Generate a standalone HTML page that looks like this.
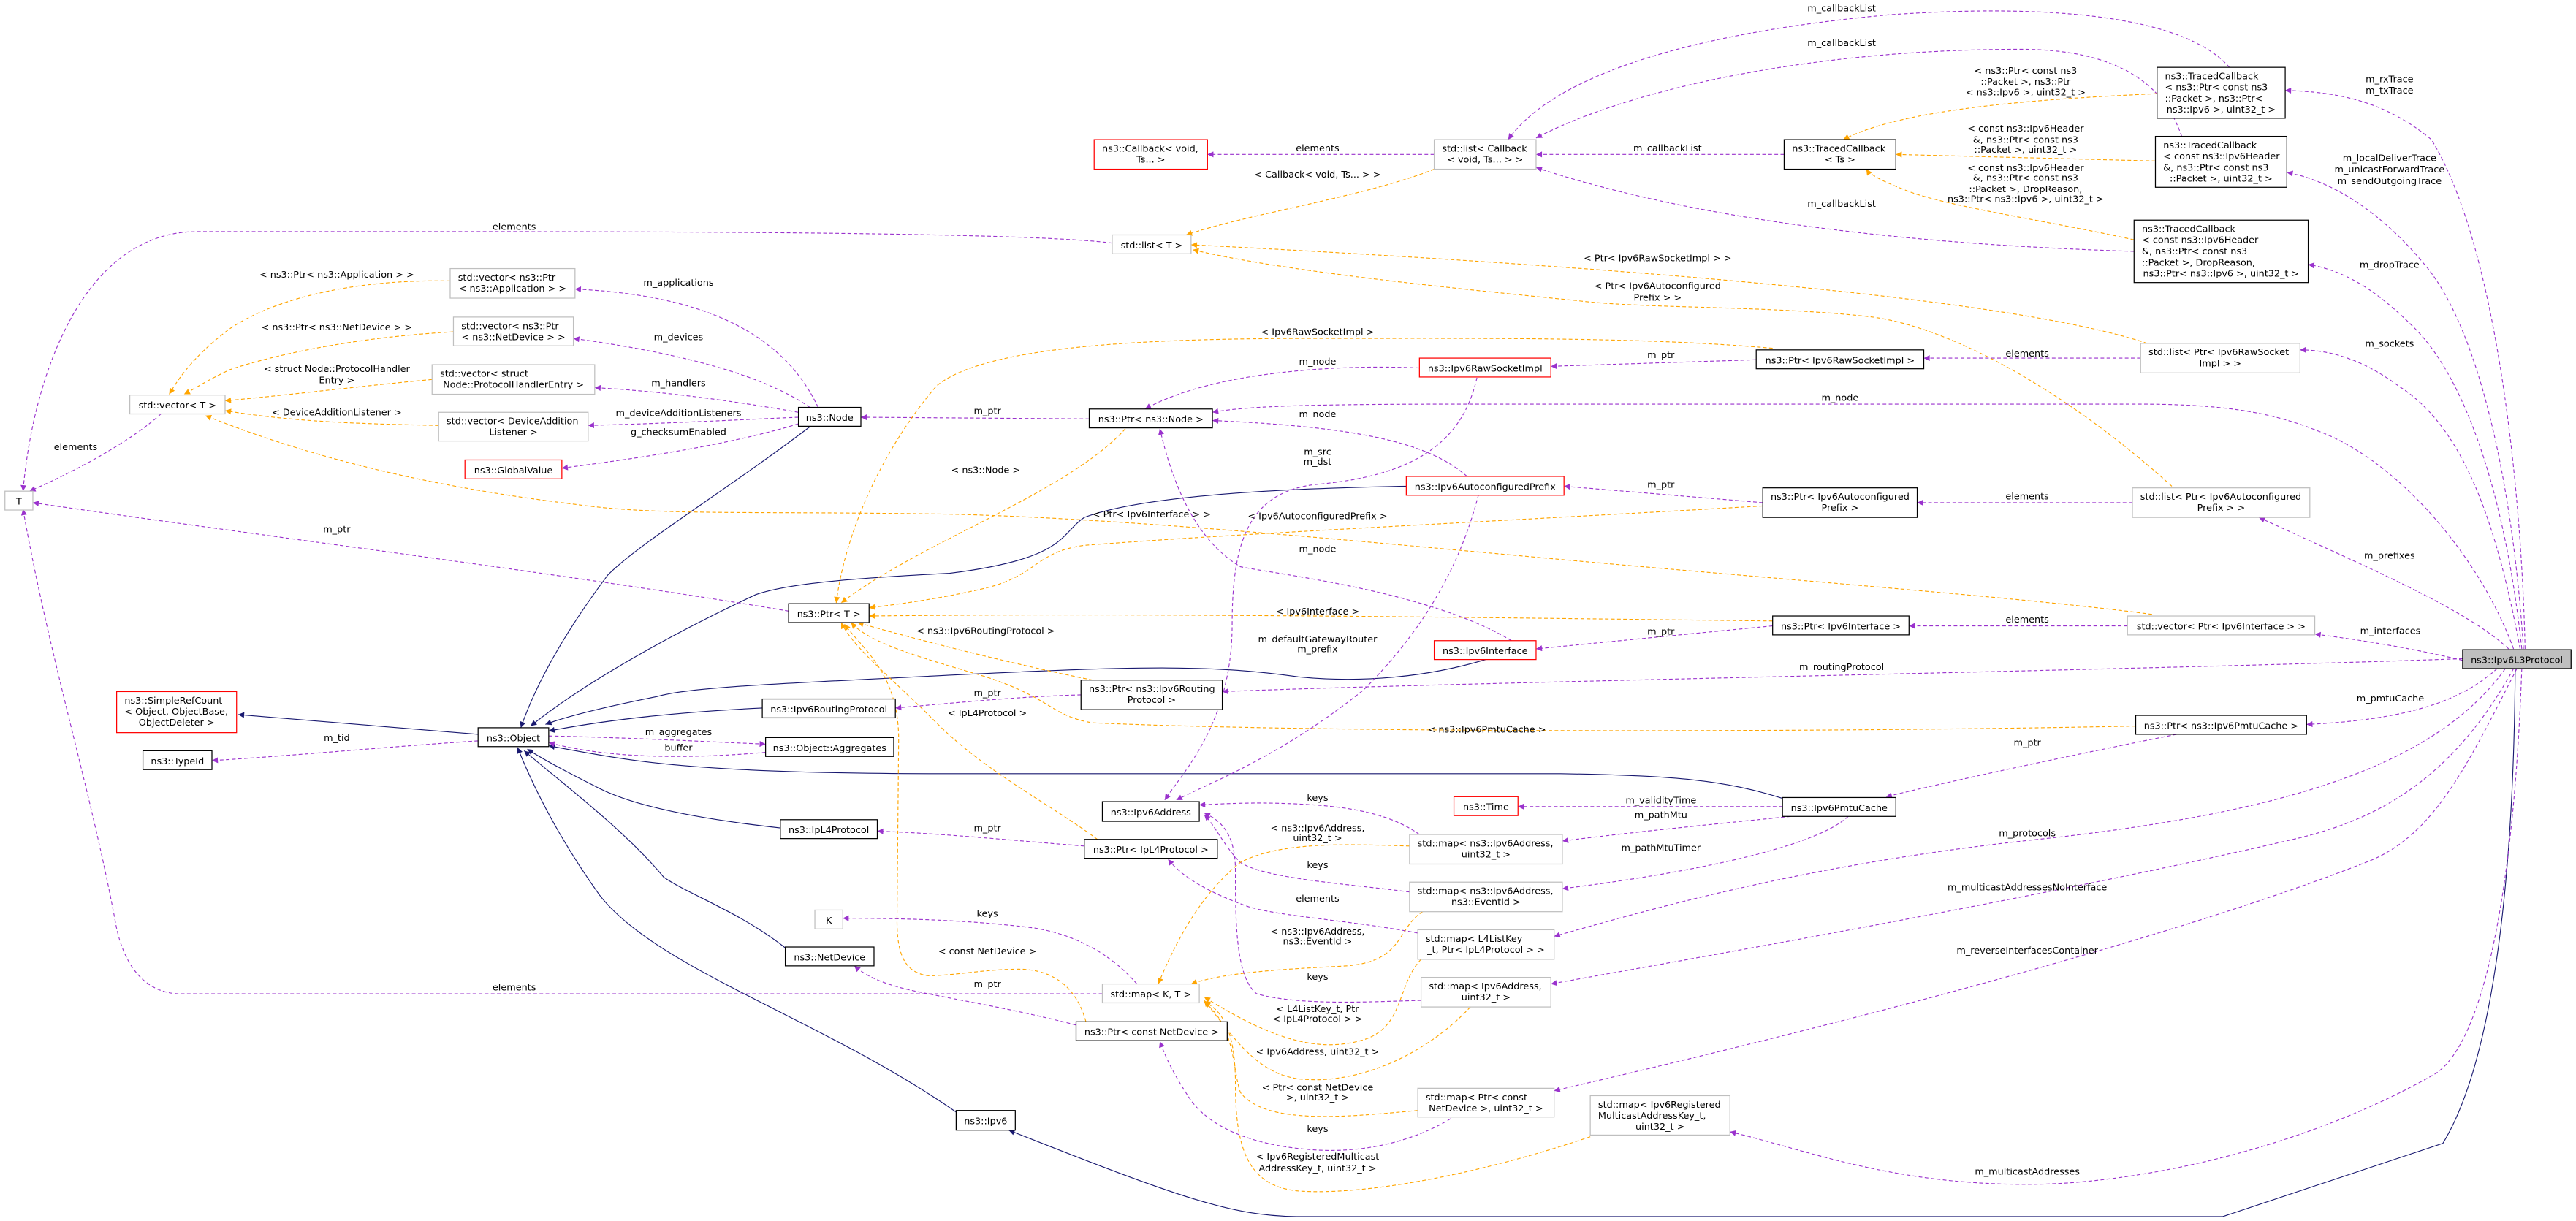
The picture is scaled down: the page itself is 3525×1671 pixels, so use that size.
<!DOCTYPE html>
<html><head><meta charset="utf-8"><style>
html,body{margin:0;padding:0;background:#fff;}
svg{display:block;}
text{font-family:"DejaVu Sans","Liberation Sans",sans-serif;font-size:5.7px;fill:#000;}
.l{text-anchor:middle;}
.p{fill:none;stroke:#9a32cd;stroke-width:0.5;stroke-dasharray:2.2,1.5;}
.o{fill:none;stroke:#ffa500;stroke-width:0.5;stroke-dasharray:2.2,1.5;}
.b{fill:none;stroke:#191970;stroke-width:0.5;}
.nb{fill:#fff;stroke:#000;stroke-width:0.55;}
.ng{fill:#fff;stroke:#bfbfbf;stroke-width:0.55;}
.nr{fill:#fff;stroke:#ff0000;stroke-width:0.55;}
.nf{fill:#bfbfbf;stroke:#000;stroke-width:0.55;}
</style></head><body>
<svg width="3525" height="1671" viewBox="0 0 1568 743.3" preserveAspectRatio="none" xmlns="http://www.w3.org/2000/svg">
<defs>
<marker id="mp" viewBox="0 0 10 10" refX="10" refY="5" markerWidth="4.5" markerHeight="3.6" markerUnits="userSpaceOnUse" orient="auto"><path d="M0,0 L10,5 L0,10 z" fill="#9a32cd"/></marker>
<marker id="mo" viewBox="0 0 10 10" refX="10" refY="5" markerWidth="4.5" markerHeight="3.6" markerUnits="userSpaceOnUse" orient="auto"><path d="M0,0 L10,5 L0,10 z" fill="#ffa500"/></marker>
<marker id="mb" viewBox="0 0 10 10" refX="10" refY="5" markerWidth="4.5" markerHeight="3.6" markerUnits="userSpaceOnUse" orient="auto"><path d="M0,0 L10,5 L0,10 z" fill="#191970"/></marker>
</defs>
<rect x="0" y="0" width="1568" height="743.3" fill="#fff"/>

<!-- blue inheritance -->
<g marker-end="url(#mb)">
<path class="b" d="M291,447 L145,435"/>
<path class="b" d="M494,259 C440,300 390,330 370,350 C340,390 325,420 317,443"/>
<path class="b" d="M856,296 C800,297 700,300 660,315 C645,325 650,340 578,349 C520,352 480,355 460,362 C400,390 350,420 323,442"/>
<path class="b" d="M906,401 C870,412 830,416 790,412 C740,405 700,405 578,411 C480,416 420,418 400,424 C370,430 345,436 332,441"/>
<path class="b" d="M464,431 C400,434 360,440 334,445"/>
<path class="b" d="M1085,486 C1050,475 1020,472 950,471 L578,471 C480,471 420,468 380,462 C360,459 345,456 334,454"/>
<path class="b" d="M475,504 C420,498 385,490 365,480 C345,470 330,462 321,456"/>
<path class="b" d="M478,577 C450,555 420,545 404,534 C380,505 340,475 319,457"/>
<path class="b" d="M582,677 C500,620 400,590 365,545 C340,510 325,480 315,455"/>
<path class="b" d="M1531,407 C1530,550 1515,650 1487,696 L1353,740.6 L789,740.6 C750,740 720,730 614,688"/>
</g>

<!-- purple -->
<g marker-end="url(#mp)">
<path class="p" d="M1357,41 C1330,10 1250,2 1150,9 C1050,18 950,40 918,85"/>
<path class="p" d="M1328,83 C1320,60 1300,30 1230,30 C1100,30 990,55 935,84"/>
<path class="p" d="M1086,94 L935,94"/>
<path class="p" d="M1299,153 C1200,150 1050,140 935,102"/>
<path class="p" d="M873,94 L735,94"/>
<path class="p" d="M677,148 C640,143 500,141 300,141 L120,141 C50,141 20,230 14,299"/>
<path class="p" d="M98,252 C80,268 50,285 18,299"/>
<path class="p" d="M480,372 C350,350 150,325 20,306"/>
<path class="p" d="M671,605 L110,605 C90,605 75,590 70,560 C55,480 30,400 14,310"/>
<path class="p" d="M498,248 C480,210 440,180 350,176"/>
<path class="p" d="M493,248 C460,225 400,213 349,206"/>
<path class="p" d="M486,251 C440,243 400,238 362,236"/>
<path class="p" d="M486,254 C440,256 400,258 358,259"/>
<path class="p" d="M486,258 C440,272 380,280 342,285"/>
<path class="p" d="M663,255 L524,254"/>
<path class="p" d="M864,224 C820,222 740,225 697,249"/>
<path class="p" d="M1069,219 L944,223"/>
<path class="p" d="M1303,218 L1171,218"/>
<path class="p" d="M1530,395 C1510,340 1460,280 1410,262 C1380,250 1350,246 1300,246 L900,246 C800,246 760,247 738,251"/>
<path class="p" d="M893,290 C870,270 830,260 738,256"/>
<path class="p" d="M920,390 C870,360 780,350 755,345 C730,330 715,300 706,261"/>
<path class="p" d="M899,230 C890,270 860,290 800,295 C760,300 750,330 750,380 C750,440 720,470 709,487"/>
<path class="p" d="M900,301 C890,340 870,380 830,420 C780,460 740,475 716,487"/>
<path class="p" d="M1073,306 L952,296"/>
<path class="p" d="M1298,306 L1167,306"/>
<path class="p" d="M1079,381 L935,395"/>
<path class="p" d="M1295,381 L1162,381"/>
<path class="p" d="M1499,402 C1470,395 1440,390 1409,386"/>
<path class="p" d="M1499,401 C1300,408 900,415 744,421"/>
<path class="p" d="M1520,407 C1500,425 1470,438 1404,441"/>
<path class="p" d="M1325,447 C1250,462 1190,475 1148,485"/>
<path class="p" d="M1085,491 L924,491"/>
<path class="p" d="M1090,497 C1040,502 990,507 951,512"/>
<path class="p" d="M1125,497 C1100,520 1000,535 951,541"/>
<path class="p" d="M1525,407 C1480,470 1380,495 1250,510 C1100,525 1000,555 946,570"/>
<path class="p" d="M1530,407 C1490,480 1440,500 1400,510 C1250,545 1050,580 944,599"/>
<path class="p" d="M1532,407 C1500,470 1480,510 1440,525 C1300,580 1050,640 946,664"/>
<path class="p" d="M1535,407 C1530,550 1510,640 1480,655 C1400,700 1300,721 1234,721 C1150,721 1100,700 1053,689"/>
<path class="p" d="M1537,395 C1535,300 1520,150 1480,85 C1450,60 1420,56 1391,55"/>
<path class="p" d="M1536,395 C1530,300 1510,200 1475,160 C1450,130 1420,110 1392,105"/>
<path class="p" d="M1535,395 C1525,300 1500,230 1470,200 C1450,180 1430,165 1405,161"/>
<path class="p" d="M1534,395 C1520,320 1500,260 1460,235 C1440,220 1420,213 1400,213"/>
<path class="p" d="M1527,395 C1500,370 1440,345 1375,315"/>
<path class="p" d="M291,451 C230,455 180,460 129,463"/>
<path class="p" d="M334,448 C380,449 420,451 466,453"/>
<path class="p" d="M466,458 C420,462 370,462 334,452"/>
<path class="p" d="M658,423 C620,424 580,428 545,431"/>
<path class="p" d="M660,515 C620,512 570,507 534,506"/>
<path class="p" d="M863,568 C820,560 780,558 760,552 C740,545 720,535 711,523"/>
<path class="p" d="M864,508 C850,498 830,492 800,490 C770,488 750,489 730,490"/>
<path class="p" d="M858,543 C820,538 770,535 755,525 C745,515 740,503 733,496"/>
<path class="p" d="M865,609 C830,610 790,612 765,605 C752,595 752,560 752,530 C752,510 745,500 733,495"/>
<path class="p" d="M883,681 C860,695 830,702 800,700 C770,698 740,690 725,670 C715,655 710,645 706,634"/>
<path class="p" d="M692,599 C680,585 660,570 630,565 C590,560 550,559 513,559"/>
<path class="p" d="M655,624 C620,615 590,610 560,604 C540,600 528,595 520,588"/>
</g>

<!-- orange -->
<g marker-end="url(#mo)">
<path class="o" d="M873,103 C830,120 760,130 722,143"/>
<path class="o" d="M1313,57 C1250,60 1160,65 1122,85"/>
<path class="o" d="M1312,98 L1154,94"/>
<path class="o" d="M1299,146 C1250,135 1180,125 1158,115 C1145,110 1138,106 1136,103"/>
<path class="o" d="M1307,209 C1250,190 1100,168 725,149"/>
<path class="o" d="M1322,296 C1260,240 1190,200 1140,193 C1080,186 1000,188 960,183 C880,175 780,165 726,152"/>
<path class="o" d="M1079,212 C1000,205 900,206 800,206 C700,206 600,210 570,235 C540,270 515,320 509,367"/>
<path class="o" d="M685,261 C650,300 560,330 512,367"/>
<path class="o" d="M1073,308 C900,318 750,325 660,332 C630,336 632,350 600,358 C570,365 545,368 529,370"/>
<path class="o" d="M1310,374 C1250,366 1150,358 1000,345 C850,332 700,316 578,313 C450,311 400,314 350,307 C250,295 180,275 125,253"/>
<path class="o" d="M1079,378 C900,376 700,373 529,375"/>
<path class="o" d="M665,414 C620,405 560,390 522,379"/>
<path class="o" d="M668,511 C640,490 600,470 570,440 C540,410 520,395 512,379"/>
<path class="o" d="M1300,442 C1100,446 800,446 665,440 C640,436 640,425 600,412 C560,400 530,392 518,379"/>
<path class="o" d="M661,622 C655,600 640,590 620,590 C600,590 580,594 565,594 C550,592 546,580 546,560 L547,450 C547,410 525,395 514,380"/>
<path class="o" d="M858,515 C820,514 780,512 755,525 C730,545 715,575 705,599"/>
<path class="o" d="M866,555 C850,565 855,585 820,588 C780,590 745,592 725,599"/>
<path class="o" d="M865,584 C850,600 855,625 830,633 C800,642 770,630 733,607"/>
<path class="o" d="M895,613 C870,640 830,660 793,657 C765,655 750,630 733,609"/>
<path class="o" d="M863,676 C820,680 770,685 755,665 C750,650 752,625 733,610"/>
<path class="o" d="M968,692 C900,715 830,728 790,725 C760,722 752,700 752,660 C752,630 745,615 733,610"/>
<path class="o" d="M274,171 C220,170 170,180 140,200 C120,215 110,228 103,240"/>
<path class="o" d="M276,202 C220,205 170,215 140,225 C125,232 118,237 112,240"/>
<path class="o" d="M263,231 C220,235 180,240 137,244"/>
<path class="o" d="M267,259 C220,258 180,257 137,250"/>
</g>

<!-- nodes -->
<rect class="ng" x="3" y="299" width="17" height="11.5"/><text class="l" x="11.5" y="307.2">T</text>
<rect class="ng" x="79" y="240.5" width="58" height="11.5"/><text class="l" x="108" y="248.7">std::vector&lt; T &gt;</text>
<rect class="ng" x="274" y="163.5" width="76" height="18"/><text x="278.8" y="170.8">std::vector&lt; ns3::Ptr</text><text class="l" x="312" y="177.5">&lt; ns3::Application &gt; &gt;</text>
<rect class="ng" x="276" y="193" width="73" height="17.5"/><text x="280.8" y="200.3">std::vector&lt; ns3::Ptr</text><text class="l" x="312.5" y="207">&lt; ns3::NetDevice &gt; &gt;</text>
<rect class="ng" x="263" y="222" width="99" height="18"/><text x="267.8" y="229.3">std::vector&lt; struct</text><text class="l" x="312.5" y="236">Node::ProtocolHandlerEntry &gt;</text>
<rect class="ng" x="267" y="251" width="91" height="17.5"/><text x="271.8" y="258.3">std::vector&lt; DeviceAddition</text><text class="l" x="312.5" y="265">Listener &gt;</text>
<rect class="nr" x="283" y="280" width="59" height="11.5"/><text class="l" x="312.5" y="288.2">ns3::GlobalValue</text>
<rect class="nb" x="486" y="248" width="38" height="11.5"/><text class="l" x="505" y="256.2">ns3::Node</text>
<rect class="nb" x="480" y="367.5" width="49" height="11.5"/><text class="l" x="504.5" y="375.7">ns3::Ptr&lt; T &gt;</text>
<rect class="nr" x="71" y="421" width="73" height="25"/><text x="75.8" y="428.3">ns3::SimpleRefCount</text><text x="75.8" y="435">&lt; Object, ObjectBase,</text><text class="l" x="107.5" y="441.8">ObjectDeleter &gt;</text>
<rect class="nb" x="87" y="457" width="42" height="11.5"/><text class="l" x="108" y="465.2">ns3::TypeId</text>
<rect class="nb" x="291" y="443" width="43" height="11.5"/><text class="l" x="312.5" y="451.2">ns3::Object</text>
<rect class="nb" x="464" y="425.5" width="81" height="11.5"/><text class="l" x="504.5" y="433.7">ns3::Ipv6RoutingProtocol</text>
<rect class="nb" x="466" y="449" width="78" height="11.5"/><text class="l" x="505" y="457.2">ns3::Object::Aggregates</text>
<rect class="nb" x="475" y="499" width="59" height="11.5"/><text class="l" x="504.5" y="507.2">ns3::IpL4Protocol</text>
<rect class="ng" x="496" y="554" width="17" height="11.5"/><text class="l" x="504.5" y="562.2">K</text>
<rect class="nb" x="478" y="576.5" width="54" height="11.5"/><text class="l" x="505" y="584.7">ns3::NetDevice</text>
<rect class="nr" x="666" y="85" width="69" height="18"/><text x="670.8" y="92.3">ns3::Callback&lt; void,</text><text class="l" x="700.5" y="99">Ts... &gt;</text>
<rect class="ng" x="873" y="85" width="62" height="18"/><text x="877.8" y="92.3">std::list&lt; Callback</text><text class="l" x="904" y="99">&lt; void, Ts... &gt; &gt;</text>
<rect class="nb" x="1086" y="85" width="68" height="18"/><text x="1090.8" y="92.3">ns3::TracedCallback</text><text class="l" x="1120" y="99">&lt; Ts &gt;</text>
<rect class="nb" x="1313" y="41" width="78" height="31"/><text x="1317.8" y="48.3">ns3::TracedCallback</text><text x="1317.8" y="55">&lt; ns3::Ptr&lt; const ns3</text><text x="1317.8" y="61.8">::Packet &gt;, ns3::Ptr&lt;</text><text class="l" x="1352" y="68.6">ns3::Ipv6 &gt;, uint32_t &gt;</text>
<rect class="nb" x="1312" y="83" width="80" height="31"/><text x="1316.8" y="90.3">ns3::TracedCallback</text><text x="1316.8" y="97">&lt; const ns3::Ipv6Header</text><text x="1316.8" y="103.8">&amp;, ns3::Ptr&lt; const ns3</text><text class="l" x="1352" y="110.6">::Packet &gt;, uint32_t &gt;</text>
<rect class="nb" x="1299" y="134" width="106" height="38"/><text x="1303.8" y="141.3">ns3::TracedCallback</text><text x="1303.8" y="148">&lt; const ns3::Ipv6Header</text><text x="1303.8" y="154.8">&amp;, ns3::Ptr&lt; const ns3</text><text x="1303.8" y="161.6">::Packet &gt;, DropReason,</text><text class="l" x="1352" y="168.4">ns3::Ptr&lt; ns3::Ipv6 &gt;, uint32_t &gt;</text>
<rect class="ng" x="677" y="143" width="48" height="11.5"/><text class="l" x="701" y="151.2">std::list&lt; T &gt;</text>
<rect class="ng" x="1303" y="209" width="97" height="18"/><text x="1307.8" y="216.3">std::list&lt; Ptr&lt; Ipv6RawSocket</text><text class="l" x="1351.5" y="223">Impl &gt; &gt;</text>
<rect class="nb" x="1069" y="213" width="102" height="11.5"/><text class="l" x="1120" y="221.2">ns3::Ptr&lt; Ipv6RawSocketImpl &gt;</text>
<rect class="nr" x="864" y="218" width="80" height="11.5"/><text class="l" x="904" y="226.2">ns3::Ipv6RawSocketImpl</text>
<rect class="nb" x="663" y="249" width="75" height="11.5"/><text class="l" x="700.5" y="257.2">ns3::Ptr&lt; ns3::Node &gt;</text>
<rect class="nr" x="856" y="290" width="96" height="11.5"/><text class="l" x="904" y="298.2">ns3::Ipv6AutoconfiguredPrefix</text>
<rect class="nb" x="1073" y="297" width="94" height="18"/><text x="1077.8" y="304.3">ns3::Ptr&lt; Ipv6Autoconfigured</text><text class="l" x="1120" y="311">Prefix &gt;</text>
<rect class="ng" x="1298" y="297" width="108" height="18"/><text x="1302.8" y="304.3">std::list&lt; Ptr&lt; Ipv6Autoconfigured</text><text class="l" x="1352" y="311">Prefix &gt; &gt;</text>
<rect class="ng" x="1295" y="375" width="114" height="11.5"/><text class="l" x="1352" y="383.2">std::vector&lt; Ptr&lt; Ipv6Interface &gt; &gt;</text>
<rect class="nb" x="1079" y="375" width="83" height="11.5"/><text class="l" x="1120.5" y="383.2">ns3::Ptr&lt; Ipv6Interface &gt;</text>
<rect class="nr" x="873" y="390" width="62" height="11.5"/><text class="l" x="904" y="398.2">ns3::Ipv6Interface</text>
<rect class="nb" x="658" y="414" width="86" height="18"/><text x="662.8" y="421.3">ns3::Ptr&lt; ns3::Ipv6Routing</text><text class="l" x="701" y="428">Protocol &gt;</text>
<rect class="nf" x="1499" y="395.5" width="66" height="11.5"/><text class="l" x="1532" y="403.7">ns3::Ipv6L3Protocol</text>
<rect class="nb" x="1300" y="435.5" width="104" height="11.5"/><text class="l" x="1352" y="443.7">ns3::Ptr&lt; ns3::Ipv6PmtuCache &gt;</text>
<rect class="nb" x="1085" y="485.5" width="69" height="11.5"/><text class="l" x="1119.5" y="493.7">ns3::Ipv6PmtuCache</text>
<rect class="nr" x="885" y="485" width="39" height="11.5"/><text class="l" x="904.5" y="493.2">ns3::Time</text>
<rect class="nb" x="671" y="488" width="59" height="12"/><text class="l" x="700.5" y="496.4">ns3::Ipv6Address</text>
<rect class="nb" x="660" y="511" width="81" height="11.5"/><text class="l" x="700.5" y="519.2">ns3::Ptr&lt; IpL4Protocol &gt;</text>
<rect class="ng" x="858" y="508" width="93" height="18"/><text x="862.8" y="515.3">std::map&lt; ns3::Ipv6Address,</text><text class="l" x="904.5" y="522">uint32_t &gt;</text>
<rect class="ng" x="858" y="537" width="93" height="18"/><text x="862.8" y="544.3">std::map&lt; ns3::Ipv6Address,</text><text class="l" x="904.5" y="551">ns3::EventId &gt;</text>
<rect class="ng" x="863" y="566" width="83" height="18"/><text x="867.8" y="573.3">std::map&lt; L4ListKey</text><text class="l" x="904.5" y="580">_t, Ptr&lt; IpL4Protocol &gt; &gt;</text>
<rect class="ng" x="865" y="595" width="79" height="18"/><text x="869.8" y="602.3">std::map&lt; Ipv6Address,</text><text class="l" x="904.5" y="609">uint32_t &gt;</text>
<rect class="ng" x="671" y="599" width="59" height="11.5"/><text class="l" x="700.5" y="607.2">std::map&lt; K, T &gt;</text>
<rect class="nb" x="655" y="622" width="92" height="11.5"/><text class="l" x="701" y="630.2">ns3::Ptr&lt; const NetDevice &gt;</text>
<rect class="ng" x="863" y="662.5" width="83" height="17.5"/><text x="867.8" y="669.8">std::map&lt; Ptr&lt; const</text><text class="l" x="904.5" y="676.5">NetDevice &gt;, uint32_t &gt;</text>
<rect class="ng" x="968" y="667" width="85" height="24"/><text x="972.8" y="674.3">std::map&lt; Ipv6Registered</text><text x="972.8" y="681">MulticastAddressKey_t,</text><text class="l" x="1010.5" y="687.8">uint32_t &gt;</text>
<rect class="nb" x="582" y="676" width="36" height="12"/><text class="l" x="600" y="684.4">ns3::Ipv6</text>

<!-- edge labels -->
<g class="l">
<text class="l" x="1121" y="7">m_callbackList</text>
<text class="l" x="1121" y="28">m_callbackList</text>
<text class="l" x="1015" y="92">m_callbackList</text>
<text class="l" x="1121" y="126">m_callbackList</text>
<text class="l" x="802" y="92">elements</text>
<text class="l" x="802" y="108">&lt; Callback&lt; void, Ts... &gt; &gt;</text>
<text class="l" x="1233" y="45">&lt; ns3::Ptr&lt; const ns3</text>
<text class="l" x="1233" y="51.5">::Packet &gt;, ns3::Ptr</text>
<text class="l" x="1233" y="58">&lt; ns3::Ipv6 &gt;, uint32_t &gt;</text>
<text class="l" x="1233" y="80">&lt; const ns3::Ipv6Header</text>
<text class="l" x="1233" y="87">&amp;, ns3::Ptr&lt; const ns3</text>
<text class="l" x="1233" y="93">::Packet &gt;, uint32_t &gt;</text>
<text class="l" x="1233" y="104">&lt; const ns3::Ipv6Header</text>
<text class="l" x="1233" y="110">&amp;, ns3::Ptr&lt; const ns3</text>
<text class="l" x="1233" y="117">::Packet &gt;, DropReason,</text>
<text class="l" x="1233" y="123">ns3::Ptr&lt; ns3::Ipv6 &gt;, uint32_t &gt;</text>
<text class="l" x="1009" y="159">&lt; Ptr&lt; Ipv6RawSocketImpl &gt; &gt;</text>
<text class="l" x="1009" y="176">&lt; Ptr&lt; Ipv6Autoconfigured</text>
<text class="l" x="1009" y="183">Prefix &gt; &gt;</text>
<text class="l" x="802" y="204">&lt; Ipv6RawSocketImpl &gt;</text>
<text class="l" x="802" y="222">m_node</text>
<text class="l" x="1011" y="218">m_ptr</text>
<text class="l" x="1234" y="217">elements</text>
<text class="l" x="601" y="252">m_ptr</text>
<text class="l" x="1120" y="244">m_node</text>
<text class="l" x="802" y="254">m_node</text>
<text class="l" x="802" y="277">m_src</text>
<text class="l" x="802" y="283">m_dst</text>
<text class="l" x="600" y="288">&lt; ns3::Node &gt;</text>
<text class="l" x="1011" y="297">m_ptr</text>
<text class="l" x="1234" y="304">elements</text>
<text class="l" x="701" y="315">&lt; Ptr&lt; Ipv6Interface &gt; &gt;</text>
<text class="l" x="802" y="316">&lt; Ipv6AutoconfiguredPrefix &gt;</text>
<text class="l" x="802" y="336">m_node</text>
<text class="l" x="313" y="140">elements</text>
<text class="l" x="205" y="169">&lt; ns3::Ptr&lt; ns3::Application &gt; &gt;</text>
<text class="l" x="413" y="174">m_applications</text>
<text class="l" x="205" y="201">&lt; ns3::Ptr&lt; ns3::NetDevice &gt; &gt;</text>
<text class="l" x="413" y="207">m_devices</text>
<text class="l" x="205" y="226.5">&lt; struct Node::ProtocolHandler</text>
<text class="l" x="205" y="233.3">Entry &gt;</text>
<text class="l" x="413" y="235">m_handlers</text>
<text class="l" x="205" y="253">&lt; DeviceAdditionListener &gt;</text>
<text class="l" x="413" y="253.3">m_deviceAdditionListeners</text>
<text class="l" x="413" y="265">g_checksumEnabled</text>
<text class="l" x="46" y="274">elements</text>
<text class="l" x="205" y="324">m_ptr</text>
<text class="l" x="205" y="451">m_tid</text>
<text class="l" x="413" y="447.5">m_aggregates</text>
<text class="l" x="413" y="457">buffer</text>
<text class="l" x="802" y="374">&lt; Ipv6Interface &gt;</text>
<text class="l" x="1011" y="386.4">m_ptr</text>
<text class="l" x="802" y="391">m_defaultGatewayRouter</text>
<text class="l" x="802" y="397">m_prefix</text>
<text class="l" x="600" y="386">&lt; ns3::Ipv6RoutingProtocol &gt;</text>
<text class="l" x="601" y="423.6">m_ptr</text>
<text class="l" x="601" y="436">&lt; IpL4Protocol &gt;</text>
<text class="l" x="905" y="446">&lt; ns3::Ipv6PmtuCache &gt;</text>
<text class="l" x="802" y="487.5">keys</text>
<text class="l" x="1011" y="489">m_validityTime</text>
<text class="l" x="1011" y="498">m_pathMtu</text>
<text class="l" x="601" y="506">m_ptr</text>
<text class="l" x="802" y="506">&lt; ns3::Ipv6Address,</text>
<text class="l" x="802" y="512">uint32_t &gt;</text>
<text class="l" x="1011" y="518">m_pathMtuTimer</text>
<text class="l" x="802" y="528.5">keys</text>
<text class="l" x="802" y="549">elements</text>
<text class="l" x="601" y="558">keys</text>
<text class="l" x="802" y="569">&lt; ns3::Ipv6Address,</text>
<text class="l" x="802" y="575">ns3::EventId &gt;</text>
<text class="l" x="601" y="581">&lt; const NetDevice &gt;</text>
<text class="l" x="802" y="596.5">keys</text>
<text class="l" x="601" y="601">m_ptr</text>
<text class="l" x="313" y="603">elements</text>
<text class="l" x="802" y="616">&lt; L4ListKey_t, Ptr</text>
<text class="l" x="802" y="622">&lt; IpL4Protocol &gt; &gt;</text>
<text class="l" x="802" y="642">&lt; Ipv6Address, uint32_t &gt;</text>
<text class="l" x="802" y="664">&lt; Ptr&lt; const NetDevice</text>
<text class="l" x="802" y="670">&gt;, uint32_t &gt;</text>
<text class="l" x="802" y="689">keys</text>
<text class="l" x="802" y="706">&lt; Ipv6RegisteredMulticast</text>
<text class="l" x="802" y="713">AddressKey_t, uint32_t &gt;</text>
<text class="l" x="1234" y="379">elements</text>
<text class="l" x="1455" y="386">m_interfaces</text>
<text class="l" x="1121" y="408">m_routingProtocol</text>
<text class="l" x="1455" y="427">m_pmtuCache</text>
<text class="l" x="1234" y="454">m_ptr</text>
<text class="l" x="1234" y="509">m_protocols</text>
<text class="l" x="1234" y="542">m_multicastAddressesNoInterface</text>
<text class="l" x="1234" y="580.6">m_reverseInterfacesContainer</text>
<text class="l" x="1234" y="715">m_multicastAddresses</text>
<text class="l" x="1454.5" y="50">m_rxTrace</text>
<text class="l" x="1454.5" y="57">m_txTrace</text>
<text class="l" x="1454.5" y="98">m_localDeliverTrace</text>
<text class="l" x="1454.5" y="105">m_unicastForwardTrace</text>
<text class="l" x="1454.5" y="112">m_sendOutgoingTrace</text>
<text class="l" x="1454.5" y="163">m_dropTrace</text>
<text class="l" x="1454.5" y="211">m_sockets</text>
<text class="l" x="1454.5" y="340">m_prefixes</text>
</g>
</svg>
</body></html>
